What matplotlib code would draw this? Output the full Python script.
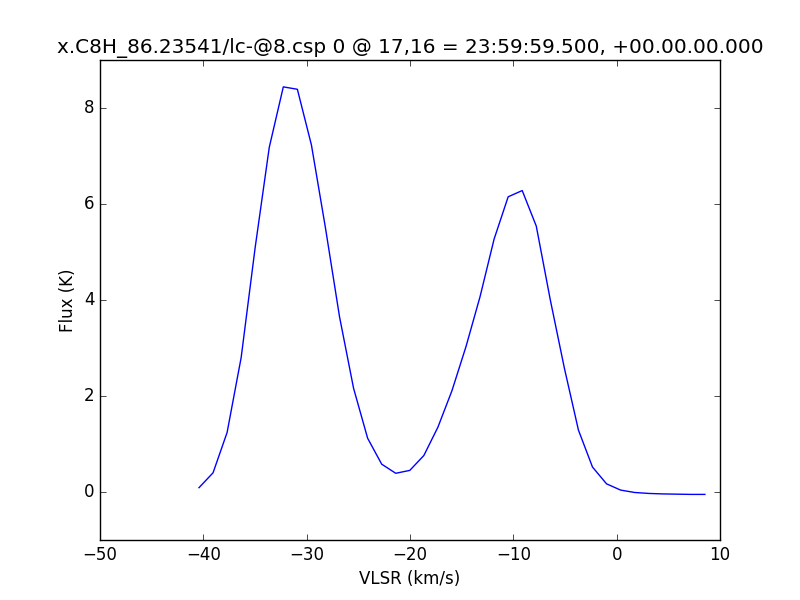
import matplotlib
matplotlib.use("Agg")
import matplotlib.pyplot as plt

plt.style.use("classic")

velocity = [-40.42, -39.06, -37.70, -36.34, -34.98, -33.62, -32.26, -30.90,
            -29.54, -28.18, -26.82, -25.46, -24.10, -22.74, -21.38, -20.02,
            -18.66, -17.30, -15.94, -14.58, -13.22, -11.86, -10.50, -9.14,
            -7.78, -6.42, -5.06, -3.70, -2.34, -0.98, 0.38, 1.74, 3.10,
            4.46, 5.82, 7.18, 8.54]
flux = [0.09, 0.40, 1.24, 2.80, 5.10, 7.18, 8.44, 8.39, 7.23, 5.50, 3.65,
        2.16, 1.12, 0.58, 0.39, 0.45, 0.76, 1.35, 2.11, 3.03, 4.07, 5.27,
        6.15, 6.28, 5.54, 4.00, 2.58, 1.29, 0.52, 0.17, 0.04, -0.01, -0.03,
        -0.04, -0.045, -0.05, -0.05]

title = "x.C8H_86.23541/lc-@8.csp 0 @ 17,16 = 23:59:59.500, +00.00.00.000"

fig = plt.figure(figsize=(8, 6), dpi=100, facecolor="white")
ax = fig.add_subplot(111)
ax.plot(velocity, flux, color="b", linewidth=1.0)
ax.set_xlim(-50, 10)
ax.set_ylim(-1, 9)
ax.set_xticks([-50, -40, -30, -20, -10, 0, 10])
ax.set_yticks([0, 2, 4, 6, 8])
ax.set_xlabel("VLSR (km/s)")
ax.set_ylabel("Flux (K)")
ax.set_title(title)
fig.savefig("out.png", dpi=100, facecolor="white")
